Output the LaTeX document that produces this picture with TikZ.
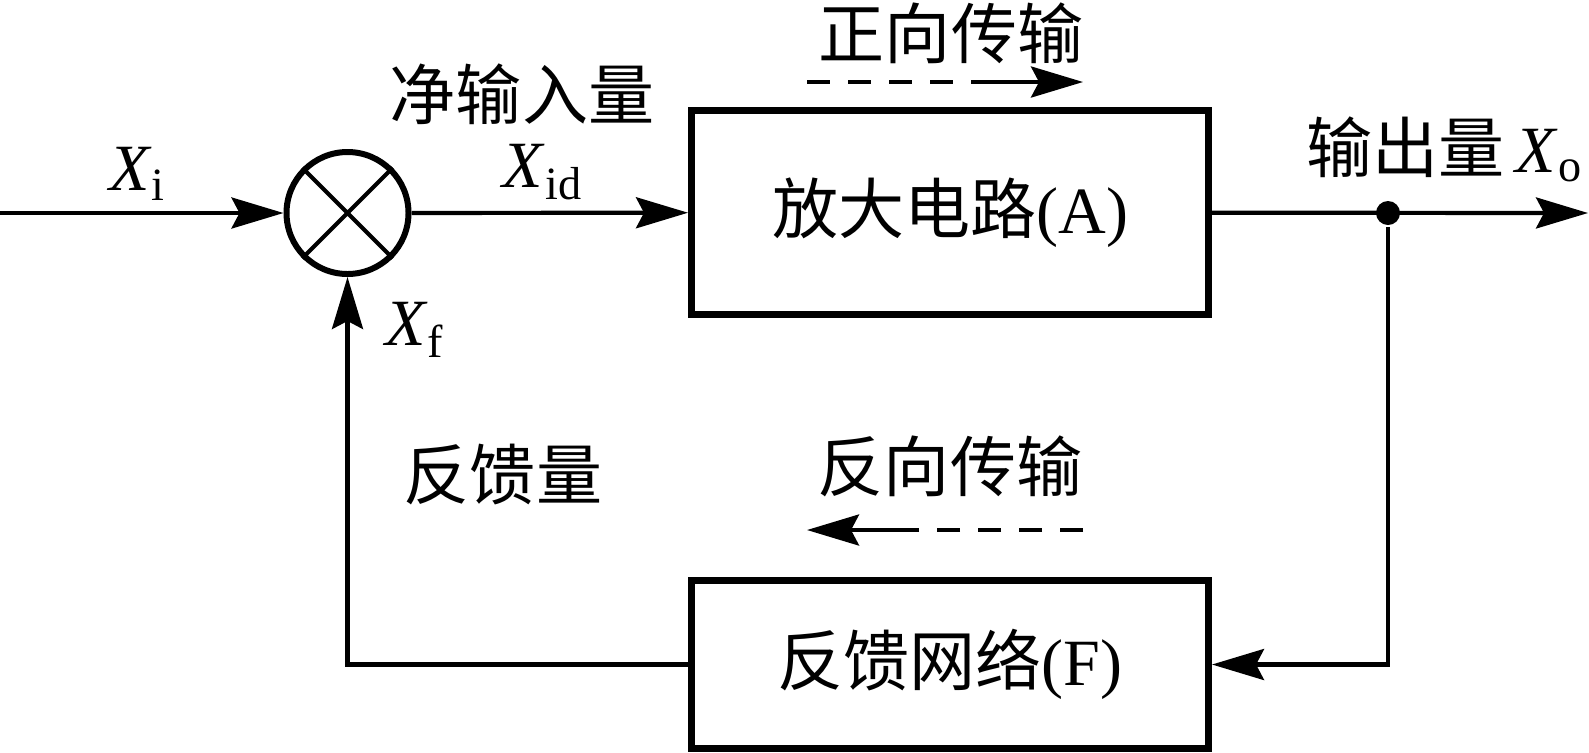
\documentclass[tikz,border=0pt]{standalone}
\usepackage{fontspec}
\setmainfont{Liberation Serif}
\newfontfamily\cjk{Noto Sans CJK SC}
\usetikzlibrary{arrows.meta}
\newcommand{\Xsig}[1]{\textit{X}\textsubscript{#1}}
\begin{document}
\begin{tikzpicture}[>={Stealth[length=0.52cm, width=0.31cm, inset=0.08cm]}, line width=0.042cm]
	\tikzstyle{block} = [rectangle, draw=black, line width=0.07cm, minimum width=5.17cm, inner sep=0pt]
	\tikzstyle{adder} = [circle, draw=black, line width=0.06cm, minimum size=1.22cm, inner sep=0pt]
	\tikzstyle{txt}   = [inner sep=0pt, font=\fontsize{18.8pt}{22pt}\selectfont]
	\tikzstyle{flow}  = [->, dash pattern=on 0.23cm off 0.18cm on 0.23cm off 0.18cm on 0.23cm off 0.18cm on 0.23cm off 0.18cm on 3cm]

	\useasboundingbox (0, 0) rectangle (15.89, 7.52);

	\node[adder] (sum) at (3.475, 5.39) {};
	\draw (sum.45) -- (sum.225) (sum.135) -- (sum.315);

	\node[block, txt, minimum height=2.04cm] (amp) at (9.5, 5.395) {{\cjk 放大电路}(A)};
	\node[block, txt, minimum height=1.68cm] (fb) at (9.5, 0.875) {{\cjk 反馈网络}(F)};
	\node[circle, fill=black, inner sep=0pt, minimum size=0.24cm] (split) at (13.88, 5.39) {};

	\coordinate (in) at (0, 5.39);
	\coordinate (out) at (15.88, 5.39);

	\foreach \name/\x/\y/\t in {xi/1.38/5.78/\Xsig{i}, xid/5.43/5.80/\Xsig{id}, xf/4.15/4.22/\Xsig{f},
		net/5.22/6.58/{\cjk 净输入量}, fwd/9.51/7.19/{\cjk 正向传输}, back/9.50/2.86/{\cjk 反向传输},
		fbq/5.03/2.77/{\cjk 反馈量}, xo/14.45/6.03/{{\cjk 输出量}\,\Xsig{o}}}
		\node[txt] (\name) at (\x, \y) {\t};

	\draw[->] (in) -- (sum);
	\draw[->] (sum) -- (amp);
	\draw[->] (amp) -- (out);
	\draw[->] (split) -- (split |- fb) -- (fb);
	\draw[->] (fb) -| (sum);

	% direction of transfer
	\coordinate (fwdL) at (8.07, 6.70);
	\coordinate (fwdR) at (10.83, 6.70);
	\coordinate (backR) at (10.83, 2.22);
	\coordinate (backL) at (8.07, 2.22);
	\draw[flow] (fwdL) -- (fwdR);
	\draw[flow] (backR) -- (backL);
\end{tikzpicture}
\end{document}
